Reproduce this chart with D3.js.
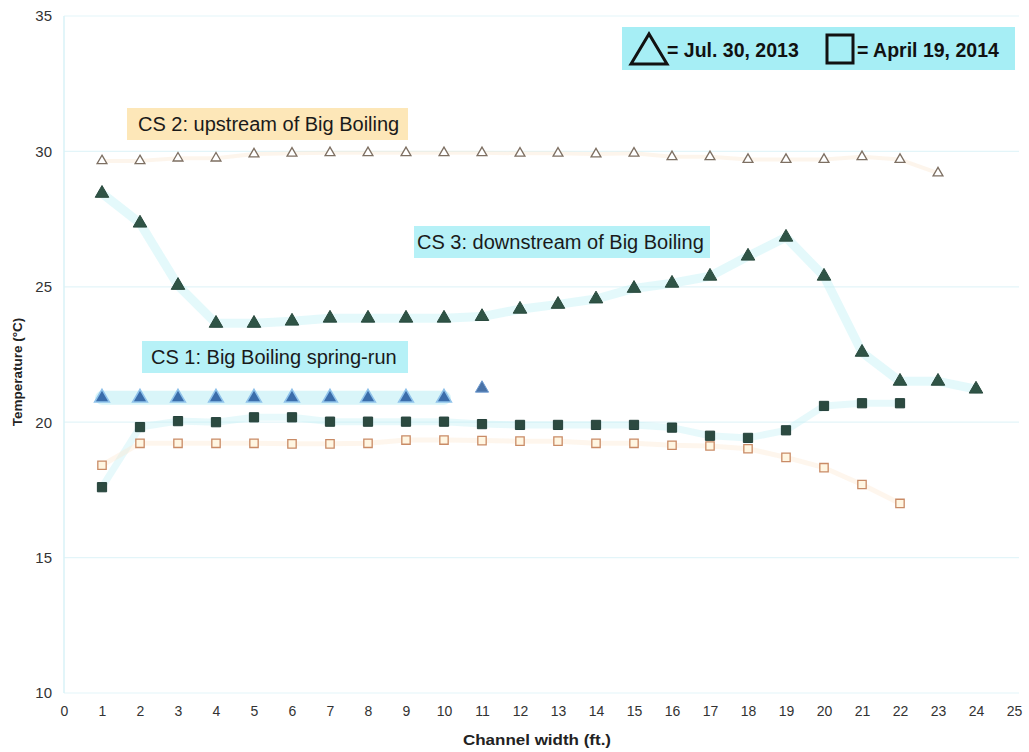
<!DOCTYPE html>
<html>
<head>
<meta charset="utf-8">
<script src="https://cdn.jsdelivr.net/npm/d3@7"></script>
<style>
  body { margin: 0; background: #fff; }
  text { font-family: "Liberation Sans", Arial, sans-serif; }
</style>
</head>
<body>
<div id="chart"></div>
<script>
// Channel width positions and temperature readings
const xTicks = d3.range(0, 26);
const yTicks = [10, 15, 20, 25, 30, 35];

// CS 2 upstream, Jul. 30 2013 (hollow triangles)
const cs2Jul = [29.65, 29.65, 29.75, 29.75, 29.9, 29.93, 29.95, 29.95, 29.95, 29.95, 29.95, 29.93, 29.93, 29.9, 29.93, 29.8, 29.8, 29.7, 29.7, 29.7, 29.8, 29.7, 29.2];
// CS 3 downstream, Jul. 30 2013 (filled triangles)
const cs3Jul = [28.45, 27.35, 25.05, 23.65, 23.65, 23.73, 23.84, 23.84, 23.84, 23.84, 23.9, 24.17, 24.35, 24.55, 24.94, 25.13, 25.39, 26.13, 26.83, 25.39, 22.58, 21.51, 21.51, 21.22];
// CS 1 spring-run, Jul. 30 2013 (blue triangles)
const cs1Jul = [20.9, 20.9, 20.9, 20.9, 20.9, 20.9, 20.9, 20.9, 20.9, 20.9, 21.25];
// CS 3, April 19 2014 (dark squares)
const cs3Apr = [17.6, 19.82, 20.04, 20.0, 20.18, 20.18, 20.02, 20.02, 20.02, 20.02, 19.93, 19.9, 19.9, 19.9, 19.9, 19.8, 19.5, 19.42, 19.7, 20.6, 20.7, 20.7];
// CS 2, April 19 2014 (hollow squares)
const cs2Apr = [18.41, 19.22, 19.22, 19.22, 19.22, 19.2, 19.2, 19.22, 19.34, 19.34, 19.32, 19.3, 19.3, 19.22, 19.22, 19.15, 19.12, 19.02, 18.7, 18.32, 17.7, 17.0];

const W = 1029, H = 752;
const margin = { top: 16, right: 15, bottom: 59, left: 64 };
const width = W - margin.left - margin.right,
      height = H - margin.top - margin.bottom;

const svg = d3.select("#chart")
  .append("svg")
    .attr("width", W)
    .attr("height", H);

const g = svg.append("g")
    .attr("transform", `translate(${margin.left},${margin.top})`);

const x = d3.scaleLinear().domain([0, 25]).range([0, 950]);
const y = d3.scaleLinear().domain([10, 35]).range([height, 0]);

// Gridlines
g.append("g")
  .selectAll("line")
  .data(yTicks)
  .enter().append("line")
    .attr("x1", 0)
    .attr("x2", 955)
    .attr("y1", d => y(d))
    .attr("y2", d => y(d))
    .attr("stroke", "#e3f5f9")
    .attr("stroke-width", 1.2);

g.append("line")
  .attr("x1", 0).attr("x2", 0)
  .attr("y1", 0).attr("y2", height)
  .attr("stroke", "#d9f2f7")
  .attr("stroke-width", 1.5);

// Y axis
const yAxis = g.append("g")
  .call(d3.axisLeft(y).tickValues(yTicks).tickSize(0).tickPadding(12));
yAxis.select(".domain").remove();
yAxis.selectAll("text")
  .attr("font-size", 15)
  .attr("fill", "#333")
  .style("font-family", "Liberation Sans, Arial, sans-serif");

// X axis
const xAxis = g.append("g")
  .attr("transform", `translate(0,${height})`)
  .call(d3.axisBottom(x).tickValues(xTicks).tickSize(0).tickPadding(13));
xAxis.select(".domain").remove();
xAxis.selectAll("text")
  .attr("font-size", 14)
  .attr("fill", "#333")
  .style("font-family", "Liberation Sans, Arial, sans-serif");

// Axis titles
svg.append("text")
  .attr("x", 537)
  .attr("y", 745)
  .attr("text-anchor", "middle")
  .attr("font-size", 15)
  .attr("font-weight", "bold")
  .attr("fill", "#222")
  .attr("textLength", 148)
  .attr("lengthAdjust", "spacingAndGlyphs")
  .text("Channel width (ft.)");

svg.append("text")
  .attr("transform", "translate(22,372) rotate(-90)")
  .attr("text-anchor", "middle")
  .attr("font-size", 13.5)
  .attr("font-weight", "bold")
  .attr("fill", "#222")
  .text("Temperature (°C)");

// Highlight bands behind series
function band(data, start, color, w, op) {
  const line = d3.line()
    .x((d, i) => x(i + start))
    .y(d => y(d));
  g.append("path")
    .datum(data)
    .attr("d", line)
    .attr("fill", "none")
    .attr("stroke", color)
    .attr("stroke-width", w)
    .attr("stroke-linecap", "round")
    .attr("stroke-linejoin", "round")
    .attr("opacity", op);
}
band(cs2Jul, 1, "#fbe6cf", 4, 0.4);
band(cs3Jul, 1, "#c4f1f6", 9, 0.45);
band(cs1Jul.slice(0, 10), 1, "#b4ecf4", 14, 0.5);
band(cs3Apr, 1, "#c4f1f6", 7, 0.4);
band(cs2Apr, 1, "#fde8d2", 5, 0.4);

// Label boxes
function labelBox(x0, y0, w, h, fill, txt, tx) {
  svg.append("rect")
    .attr("x", x0).attr("y", y0)
    .attr("width", w).attr("height", h)
    .attr("fill", fill)
    .attr("opacity", 0.9);
  svg.append("text")
    .attr("x", tx)
    .attr("y", y0 + h / 2 + 7)
    .attr("font-size", 20)
    .attr("fill", "#1a1a1a")
    .text(txt);
}
labelBox(127, 108, 281, 32, "#fde4b0", "CS 2: upstream of Big Boiling", 138);
labelBox(414, 226, 296, 32, "#aef0f6", "CS 3: downstream of Big Boiling", 417);
labelBox(142, 341, 266, 32, "#aef0f6", "CS 1: Big Boiling spring-run", 151);

// Markers
const tri = d3.symbol().type(d3.symbolTriangle);
const sq = d3.symbol().type(d3.symbolSquare);

function markers(data, start, sym, size, fill, stroke, sw) {
  g.append("g")
    .selectAll("path")
    .data(data)
    .enter().append("path")
      .attr("d", sym.size(size)())
      .attr("transform", (d, i) => `translate(${x(i + start)},${y(d)})`)
      .attr("fill", fill)
      .attr("stroke", stroke)
      .attr("stroke-width", sw);
}
markers(cs2Jul, 1, tri, 42, "#fff", "#7d6f62", 1.3);
markers(cs2Apr, 1, sq, 70, "#fff6e2", "#c98b66", 1.3);
markers(cs3Apr, 1, sq, 85, "#2c4a40", "#23403a", 1);
markers(cs1Jul.slice(0, 10), 1, tri, 95, "#3a6dab", "#8fc2ea", 1.5);
markers(cs1Jul.slice(10), 11, tri, 75, "#4a73a8", "#6f9bd0", 1);
markers(cs3Jul, 1, tri, 80, "#2f5446", "#2a4a3e", 1);

// Legend
svg.append("rect")
  .attr("x", 622).attr("y", 27)
  .attr("width", 393).attr("height", 43)
  .attr("fill", "#a6eef5");

svg.append("path")
  .attr("d", "M631,64 L649,34 L667,64 Z")
  .attr("fill", "none")
  .attr("stroke", "#111")
  .attr("stroke-width", 3)
  .attr("stroke-linejoin", "miter");
svg.append("text")
  .attr("x", 667).attr("y", 57)
  .attr("font-size", 19.5).attr("font-weight", "bold")
  .attr("fill", "#111")
  .text("= Jul. 30, 2013");

svg.append("rect")
  .attr("x", 827).attr("y", 35)
  .attr("width", 26).attr("height", 28)
  .attr("fill", "none")
  .attr("stroke", "#111")
  .attr("stroke-width", 3);
svg.append("text")
  .attr("x", 857).attr("y", 57)
  .attr("font-size", 19.5).attr("font-weight", "bold")
  .attr("fill", "#111")
  .text("= April 19, 2014");
</script>
</body>
</html>
